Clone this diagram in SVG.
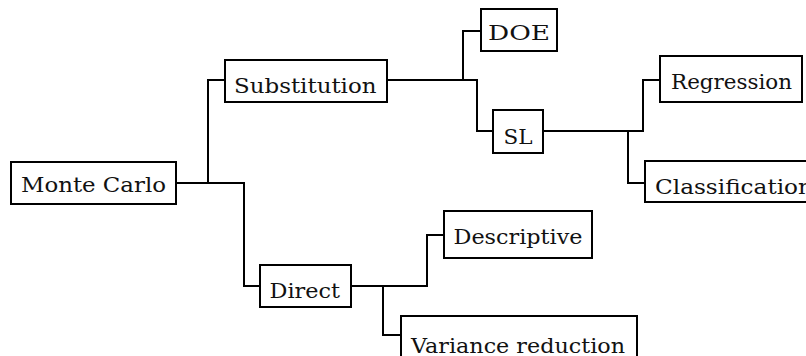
<svg xmlns="http://www.w3.org/2000/svg" width="806" height="356" viewBox="0 0 806 356">
<style>
.box{fill:#fff;stroke:#000;stroke-width:2}
.lbl{font-family:'DejaVu Serif',serif;font-size:21px;fill:#111}
.conn path{fill:none;stroke:#000;stroke-width:2}
</style>
<rect width="806" height="356" fill="#fff"/>
<g class="conn" id="connectors">
<path d="M176,183 H208 V80 H225"/>
<path d="M208,183 H244 V286 H260"/>
<path d="M387,80 H463 V31 H481"/>
<path d="M463,80 H477 V131 H493"/>
<path d="M543,131 H643 V80 H660"/>
<path d="M628,131 V183 H645"/>
<path d="M351,286 H427 V235 H444"/>
<path d="M383,286 V335 H401"/>
</g>
<g id="monte-carlo"><rect class="box" x="11" y="162" width="165" height="42"/><text class="lbl" x="21" y="192" textLength="145" lengthAdjust="spacingAndGlyphs">Monte Carlo</text></g>
<g id="substitution"><rect class="box" x="225" y="60" width="162" height="42"/><text class="lbl" x="234" y="92.5" textLength="142.5" lengthAdjust="spacingAndGlyphs">Substitution</text></g>
<g id="doe"><rect class="box" x="481" y="9" width="76" height="42"/><text class="lbl" x="488" y="40" textLength="62" lengthAdjust="spacingAndGlyphs">DOE</text></g>
<g id="sl"><rect class="box" x="493" y="110" width="50" height="43"/><text class="lbl" x="503.5" y="143.5" textLength="29" lengthAdjust="spacingAndGlyphs">SL</text></g>
<g id="regression"><rect class="box" x="660" y="56" width="142" height="46"/><text class="lbl" x="671" y="88.5" textLength="121" lengthAdjust="spacingAndGlyphs">Regression</text></g>
<g id="classification"><rect class="box" x="645" y="161" width="180" height="41"/><text class="lbl" x="655" y="194" textLength="158" lengthAdjust="spacingAndGlyphs">Classification</text></g>
<g id="direct"><rect class="box" x="260" y="265" width="91" height="42"/><text class="lbl" x="269.5" y="297.5" textLength="70.5" lengthAdjust="spacingAndGlyphs">Direct</text></g>
<g id="descriptive"><rect class="box" x="444" y="211" width="148" height="47"/><text class="lbl" x="453.5" y="243.5" textLength="129" lengthAdjust="spacingAndGlyphs">Descriptive</text></g>
<g id="variance-reduction"><rect class="box" x="401" y="316" width="236" height="44"/><text class="lbl" x="411" y="352.5" textLength="214" lengthAdjust="spacingAndGlyphs">Variance reduction</text></g>
</svg>
